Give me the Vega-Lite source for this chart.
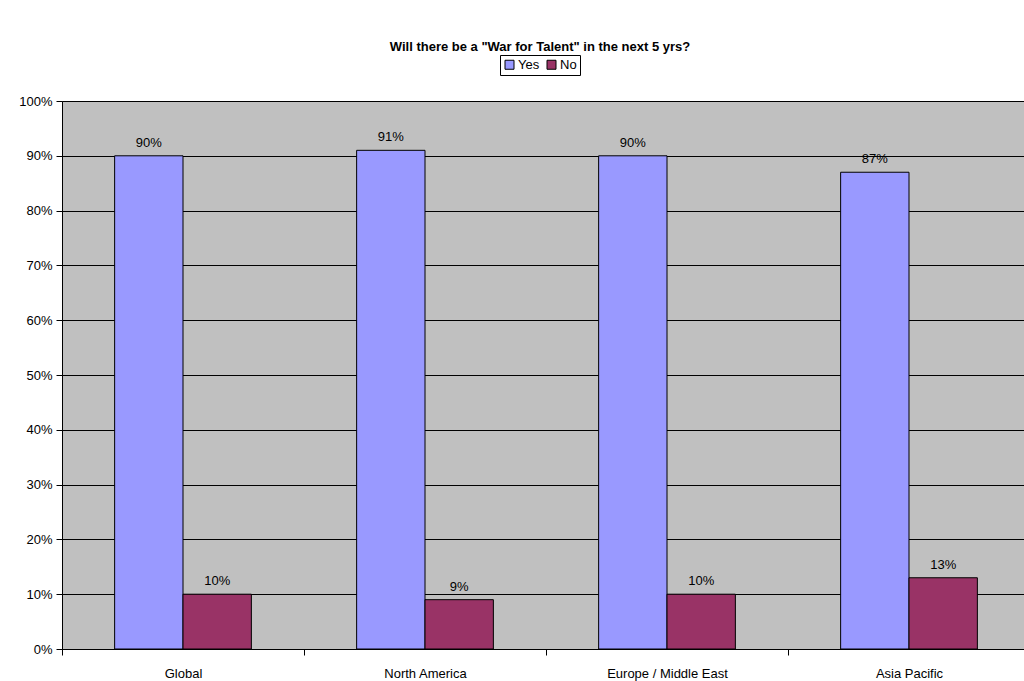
{
  "$schema": "https://vega.github.io/schema/vega-lite/v6.json",
  "width": 968,
  "height": 548,
  "autosize": {"type": "none"},
  "padding": {"left": 62, "top": 101, "right": 0, "bottom": 32},
  "background": "white",
  "title": {
    "text": "Will there be a \"War for Talent\" in the next 5 yrs?",
    "font": "Liberation Sans",
    "fontSize": 13,
    "fontWeight": "bold",
    "color": "#000",
    "anchor": "middle",
    "dx": -6,
    "offset": 1
  },
  "config": {
    "font": "Liberation Sans",
    "view": {"fill": "#C0C0C0", "stroke": "#808080", "strokeWidth": 1}
  },
  "data": {
    "values": [
      {"region": "Global", "answer": "Yes", "value": 0.90},
      {"region": "Global", "answer": "No", "value": 0.10},
      {"region": "North America", "answer": "Yes", "value": 0.91},
      {"region": "North America", "answer": "No", "value": 0.09},
      {"region": "Europe / Middle East", "answer": "Yes", "value": 0.90},
      {"region": "Europe / Middle East", "answer": "No", "value": 0.10},
      {"region": "Asia Pacific", "answer": "Yes", "value": 0.87},
      {"region": "Asia Pacific", "answer": "No", "value": 0.13}
    ]
  },
  "encoding": {
    "x": {
      "field": "region",
      "type": "nominal",
      "sort": ["Global", "North America", "Europe / Middle East", "Asia Pacific"],
      "scale": {"paddingInner": 0, "paddingOuter": 0},
      "axis": {
        "title": null,
        "labelAngle": 0,
        "labelFontSize": 13,
        "labelColor": "#000",
        "labelPadding": 12,
        "tickBand": "extent",
        "tickSize": 6,
        "tickColor": "#000",
        "domainColor": "#000",
        "grid": false
      }
    },
    "xOffset": {
      "field": "answer",
      "type": "nominal",
      "sort": ["Yes", "No"],
      "scale": {"paddingOuter": 0.77, "paddingInner": 0}
    },
    "y": {
      "field": "value",
      "type": "quantitative",
      "scale": {"domain": [0, 1], "nice": false},
      "axis": {
        "title": null,
        "format": ".0%",
        "values": [0, 0.1, 0.2, 0.3, 0.4, 0.5, 0.6, 0.7, 0.8, 0.9, 1],
        "labelFontSize": 13,
        "labelColor": "#000",
        "labelPadding": 4,
        "tickSize": 6,
        "tickColor": "#000",
        "domainColor": "#000",
        "grid": true,
        "gridColor": "#000",
        "gridWidth": 1,
        "gridOpacity": 1
      }
    }
  },
  "layer": [
    {
      "mark": {"type": "bar", "stroke": "#000", "strokeWidth": 1, "opacity": 1},
      "encoding": {
        "color": {
          "field": "answer",
          "type": "nominal",
          "sort": ["Yes", "No"],
          "scale": {"domain": ["Yes", "No"], "range": ["#9999FF", "#993366"]},
          "legend": {
            "title": null,
            "orient": "none",
            "direction": "horizontal",
            "legendX": 438,
            "legendY": -46,
            "symbolType": "square",
            "symbolSize": 81,
            "symbolStrokeColor": "#000",
            "symbolStrokeWidth": 1,
            "symbolOpacity": 1,
            "labelFontSize": 13,
            "labelColor": "#000",
            "labelOffset": 2,
            "columnPadding": 5,
            "padding": 3,
            "strokeColor": "#000",
            "fillColor": "#fff"
          }
        }
      }
    },
    {
      "mark": {"type": "text", "fontSize": 13, "color": "#000", "baseline": "alphabetic", "dy": -9},
      "encoding": {
        "text": {"field": "value", "type": "quantitative", "format": ".0%"}
      }
    }
  ]
}
